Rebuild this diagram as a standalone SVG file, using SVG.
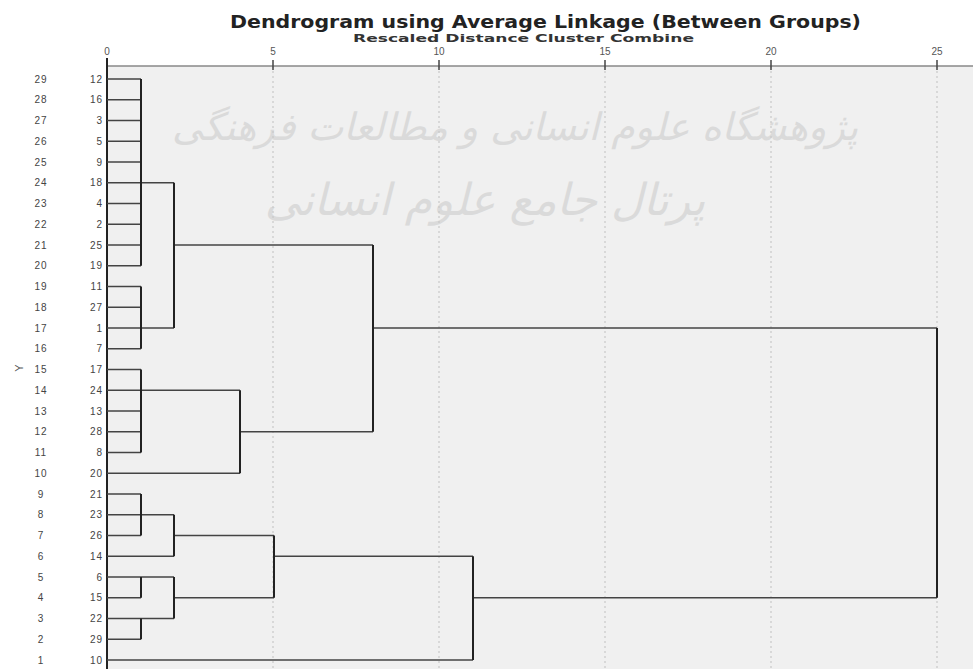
<svg xmlns="http://www.w3.org/2000/svg" width="973" height="669" viewBox="0 0 973 669">
<style>
.num{font-family:"Liberation Sans",Arial,sans-serif;font-size:10px;fill:#444;letter-spacing:1px}
.tick{font-family:"Liberation Sans",Arial,sans-serif;font-size:10px;fill:#555}
.h{stroke:#444;stroke-width:1.6;fill:none}
.v{stroke:#222;stroke-width:2;fill:none}
.grid{stroke:#c8c8c8;stroke-width:1.2;stroke-dasharray:2 3;fill:none}
.wm{font-family:"DejaVu Sans","Noto Sans",sans-serif;fill:#dadada;font-style:italic}
</style>
<rect x="0" y="0" width="973" height="669" fill="#ffffff"/>
<rect x="107" y="66" width="866" height="603" fill="#f0f0f0"/>
<g id="watermark">
<text class="wm" x="515" y="140" font-size="38" text-anchor="middle" direction="rtl">پژوهشگاه علوم انسانی و مطالعات فرهنگی</text>
<text class="wm" x="485" y="215" font-size="44" text-anchor="middle" direction="rtl">پرتال جامع علوم انسانی</text>
</g>
<g id="grid">
<line class="grid" x1="273" y1="66" x2="273" y2="669"/>
<line class="grid" x1="439" y1="66" x2="439" y2="669"/>
<line class="grid" x1="605" y1="66" x2="605" y2="669"/>
<line class="grid" x1="771" y1="66" x2="771" y2="669"/>
<line class="grid" x1="937" y1="66" x2="937" y2="669"/>
</g>
<g id="axis">
<line x1="107" y1="66" x2="973" y2="66" stroke="#888" stroke-width="1.5"/>
<line x1="107" y1="58" x2="107" y2="669" stroke="#222" stroke-width="2"/>
<g stroke="#444" stroke-width="1.5">
<line x1="273" y1="60" x2="273" y2="70"/>
<line x1="439" y1="60" x2="439" y2="70"/>
<line x1="605" y1="60" x2="605" y2="70"/>
<line x1="771" y1="60" x2="771" y2="70"/>
<line x1="937" y1="60" x2="937" y2="70"/>
</g>
<text class="tick" x="107" y="55" text-anchor="middle">0</text>
<text class="tick" x="273" y="55" text-anchor="middle">5</text>
<text class="tick" x="439" y="55" text-anchor="middle">10</text>
<text class="tick" x="605" y="55" text-anchor="middle">15</text>
<text class="tick" x="771" y="55" text-anchor="middle">20</text>
<text class="tick" x="937" y="55" text-anchor="middle">25</text>
</g>
<g id="title">
<text x="230" y="28" font-family="DejaVu Sans,Verdana,sans-serif" font-weight="bold" font-size="17" fill="#222" textLength="631" lengthAdjust="spacingAndGlyphs">Dendrogram using Average Linkage (Between Groups)</text>
<text x="353" y="42" font-family="DejaVu Sans,Verdana,sans-serif" font-weight="bold" font-size="11" fill="#333" textLength="341" lengthAdjust="spacingAndGlyphs">Rescaled Distance Cluster Combine</text>
<text x="0" y="0" transform="translate(23,368) rotate(-90)" font-family="Liberation Sans,Arial,sans-serif" font-size="11" fill="#555" text-anchor="middle">Y</text>
</g>
<g id="row-numbers" class="num" text-anchor="middle">
<text x="41" y="82.5">29</text><text x="41" y="103.25">28</text><text x="41" y="124">27</text><text x="41" y="144.75">26</text><text x="41" y="165.5">25</text>
<text x="41" y="186.25">24</text><text x="41" y="207">23</text><text x="41" y="227.75">22</text><text x="41" y="248.5">21</text><text x="41" y="269.25">20</text>
<text x="41" y="290">19</text><text x="41" y="310.75">18</text><text x="41" y="331.5">17</text><text x="41" y="352.25">16</text><text x="41" y="373">15</text>
<text x="41" y="393.75">14</text><text x="41" y="414.5">13</text><text x="41" y="435.25">12</text><text x="41" y="456">11</text><text x="41" y="476.75">10</text>
<text x="41" y="497.5">9</text><text x="41" y="518.25">8</text><text x="41" y="539">7</text><text x="41" y="559.75">6</text><text x="41" y="580.5">5</text>
<text x="41" y="601.25">4</text><text x="41" y="622">3</text><text x="41" y="642.75">2</text><text x="41" y="663.5">1</text>
</g>
<g id="leaves" class="num" text-anchor="end">
<g id="leaf-12"><text x="103" y="82.5">12</text></g>
<g id="leaf-16"><text x="103" y="103.25">16</text></g>
<g id="leaf-3"><text x="103" y="124">3</text></g>
<g id="leaf-5"><text x="103" y="144.75">5</text></g>
<g id="leaf-9"><text x="103" y="165.5">9</text></g>
<g id="leaf-18"><text x="103" y="186.25">18</text></g>
<g id="leaf-4"><text x="103" y="207">4</text></g>
<g id="leaf-2"><text x="103" y="227.75">2</text></g>
<g id="leaf-25"><text x="103" y="248.5">25</text></g>
<g id="leaf-19"><text x="103" y="269.25">19</text></g>
<g id="leaf-11"><text x="103" y="290">11</text></g>
<g id="leaf-27"><text x="103" y="310.75">27</text></g>
<g id="leaf-1"><text x="103" y="331.5">1</text></g>
<g id="leaf-7"><text x="103" y="352.25">7</text></g>
<g id="leaf-17"><text x="103" y="373">17</text></g>
<g id="leaf-24"><text x="103" y="393.75">24</text></g>
<g id="leaf-13"><text x="103" y="414.5">13</text></g>
<g id="leaf-28"><text x="103" y="435.25">28</text></g>
<g id="leaf-8"><text x="103" y="456">8</text></g>
<g id="leaf-20"><text x="103" y="476.75">20</text></g>
<g id="leaf-21"><text x="103" y="497.5">21</text></g>
<g id="leaf-23"><text x="103" y="518.25">23</text></g>
<g id="leaf-26"><text x="103" y="539">26</text></g>
<g id="leaf-14"><text x="103" y="559.75">14</text></g>
<g id="leaf-6"><text x="103" y="580.5">6</text></g>
<g id="leaf-15"><text x="103" y="601.25">15</text></g>
<g id="leaf-22"><text x="103" y="622">22</text></g>
<g id="leaf-29"><text x="103" y="642.75">29</text></g>
<g id="leaf-10"><text x="103" y="663.5">10</text></g>
</g>
<g id="connectors">
<g class="h">
<line x1="107" y1="79" x2="141" y2="79"/>
<line x1="107" y1="99.75" x2="141" y2="99.75"/>
<line x1="107" y1="120.5" x2="141" y2="120.5"/>
<line x1="107" y1="141.25" x2="141" y2="141.25"/>
<line x1="107" y1="162" x2="141" y2="162"/>
<line x1="107" y1="182.75" x2="174" y2="182.75"/>
<line x1="107" y1="203.5" x2="141" y2="203.5"/>
<line x1="107" y1="224.25" x2="141" y2="224.25"/>
<line x1="107" y1="245" x2="141" y2="245"/>
<line x1="174" y1="245" x2="373" y2="245"/>
<line x1="107" y1="265.75" x2="141" y2="265.75"/>
<line x1="107" y1="286.5" x2="141" y2="286.5"/>
<line x1="107" y1="307.25" x2="141" y2="307.25"/>
<line x1="107" y1="328" x2="174" y2="328"/>
<line x1="373" y1="328" x2="937" y2="328"/>
<line x1="107" y1="348.75" x2="141" y2="348.75"/>
<line x1="107" y1="369.5" x2="141" y2="369.5"/>
<line x1="107" y1="390.25" x2="240" y2="390.25"/>
<line x1="107" y1="411" x2="141" y2="411"/>
<line x1="107" y1="431.75" x2="141" y2="431.75"/>
<line x1="240" y1="431.75" x2="373" y2="431.75"/>
<line x1="107" y1="452.5" x2="141" y2="452.5"/>
<line x1="107" y1="473.25" x2="240" y2="473.25"/>
<line x1="107" y1="494" x2="141" y2="494"/>
<line x1="107" y1="514.75" x2="174" y2="514.75"/>
<line x1="107" y1="535.5" x2="141" y2="535.5"/>
<line x1="174" y1="535.5" x2="274" y2="535.5"/>
<line x1="107" y1="556.25" x2="174" y2="556.25"/>
<line x1="274" y1="556.25" x2="473" y2="556.25"/>
<line x1="107" y1="577" x2="174" y2="577"/>
<line x1="107" y1="597.75" x2="141" y2="597.75"/>
<line x1="174" y1="597.75" x2="274" y2="597.75"/>
<line x1="473" y1="597.75" x2="937" y2="597.75"/>
<line x1="107" y1="618.5" x2="174" y2="618.5"/>
<line x1="107" y1="639.25" x2="141" y2="639.25"/>
<line x1="107" y1="660" x2="473" y2="660"/>
</g>
<g class="v">
<line x1="141" y1="79" x2="141" y2="265.75"/>
<line x1="141" y1="286.5" x2="141" y2="348.75"/>
<line x1="141" y1="369.5" x2="141" y2="452.5"/>
<line x1="141" y1="494" x2="141" y2="535.5"/>
<line x1="141" y1="577" x2="141" y2="597.75"/>
<line x1="141" y1="618.5" x2="141" y2="639.25"/>
<line x1="174" y1="182.75" x2="174" y2="328"/>
<line x1="174" y1="514.75" x2="174" y2="556.25"/>
<line x1="174" y1="577" x2="174" y2="618.5"/>
<line x1="240" y1="390.25" x2="240" y2="473.25"/>
<line x1="274" y1="535.5" x2="274" y2="597.75"/>
<line x1="373" y1="245" x2="373" y2="431.75"/>
<line x1="473" y1="556.25" x2="473" y2="660"/>
<line x1="937" y1="328" x2="937" y2="597.75"/>
</g>
</g>
</svg>
